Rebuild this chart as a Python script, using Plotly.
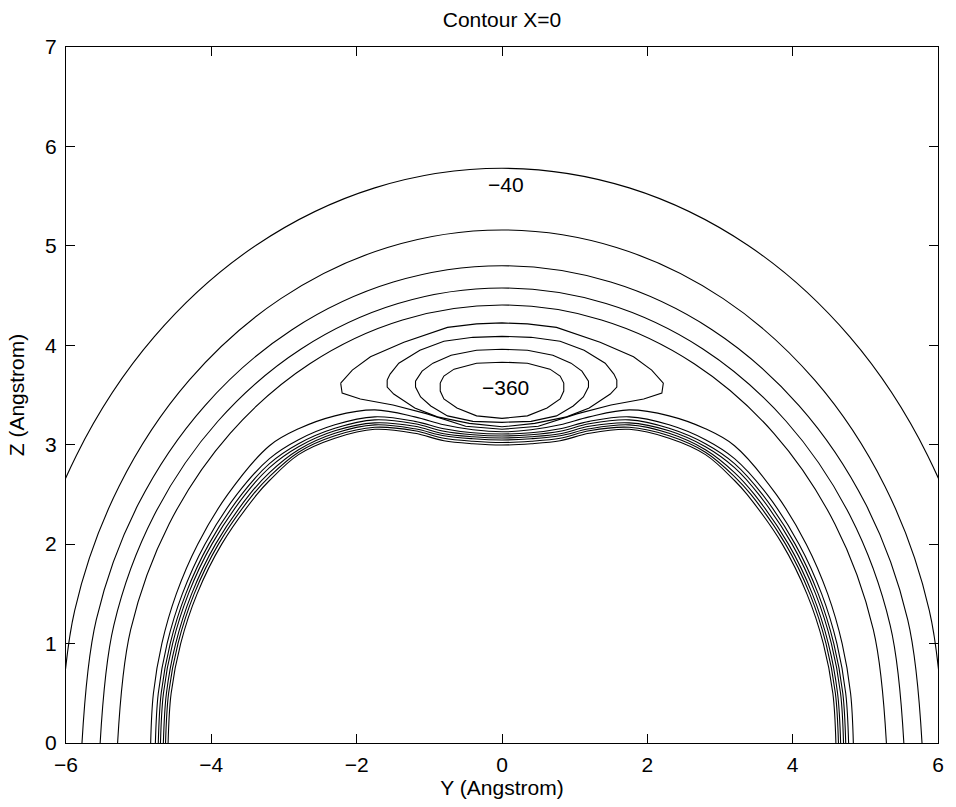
import plotly.graph_objects as go

# ---- contour data (Y, Z in Angstrom) ----
# open arcs (outer levels)
c040_y = [-6.765, -6.534, -5.859, -4.784, -3.383, -1.751, 0, 1.751, 3.383, 4.784, 5.859, 6.534, 6.765]
c040_z = [0, 1.496, 2.890, 4.087, 5.006, 5.583, 5.780, 5.583, 5.006, 4.087, 2.890, 1.496, 0]
c080_y = [-6.087, -5.880, -5.271, -4.304, -3.044, -1.575, 0, 1.575, 3.044, 4.304, 5.271, 5.880, 6.087]
c080_z = [0, 1.335, 2.580, 3.649, 4.469, 4.984, 5.160, 4.984, 4.469, 3.649, 2.580, 1.335, 0]
c120_y = [-5.78, -5.583, -5.006, -4.087, -2.890, -1.496, 0, 1.496, 2.890, 4.087, 5.006, 5.583, 5.78]
c120_z = [0, 1.242, 2.400, 3.394, 4.157, 4.636, 4.800, 4.636, 4.157, 3.394, 2.400, 1.242, 0]
c160_y = [-5.53, -5.342, -4.789, -3.910, -2.765, -1.431, 0, 1.431, 2.765, 3.910, 4.789, 5.342, 5.53]
c160_z = [0, 1.184, 2.288, 3.236, 3.963, 4.420, 4.576, 4.420, 3.963, 3.236, 2.288, 1.184, 0]
c200_y = [-5.29, -5.110, -4.581, -3.741, -2.645, -1.369, 0, 1.369, 2.645, 3.741, 4.581, 5.110, 5.29]
c200_z = [0, 1.140, 2.203, 3.115, 3.815, 4.255, 4.405, 4.255, 3.815, 3.115, 2.203, 1.140, 0]

# closed loops around the minimum
c240_y = [-2.22, -2.06, -1.81, -1.35, -0.75, -0.35, 0, 0.35, 0.75, 1.35, 1.81, 2.06, 2.22,
          2.20, 1.95, 1.50, 1.03, 0.50, 0, -0.50, -1.03, -1.50, -1.95, -2.20, -2.22]
c240_z = [3.62, 3.75, 3.885, 4.03, 4.18, 4.215, 4.225, 4.215, 4.18, 4.03, 3.885, 3.75, 3.62,
          3.52, 3.46, 3.40, 3.31, 3.185, 3.155, 3.185, 3.31, 3.40, 3.46, 3.52, 3.62]
c280_y = [-1.58, -1.54, -1.42, -1.13, -0.80, -0.40, 0, 0.40, 0.80, 1.13, 1.42, 1.54, 1.58,
          1.58, 1.49, 1.20, 0.89, 0.45, 0, -0.45, -0.89, -1.20, -1.49, -1.58, -1.58]
c280_z = [3.65, 3.71, 3.82, 3.95, 4.04, 4.08, 4.09, 4.08, 4.04, 3.95, 3.82, 3.71, 3.65,
          3.58, 3.51, 3.37, 3.28, 3.215, 3.18, 3.215, 3.28, 3.37, 3.51, 3.58, 3.65]
c320_y = [-1.19, -1.10, -0.95, -0.70, -0.35, 0, 0.35, 0.70, 0.95, 1.10, 1.19,
          1.19, 1.12, 0.98, 0.75, 0.40, 0, -0.40, -0.75, -0.98, -1.12, -1.19, -1.19]
c320_z = [3.64, 3.74, 3.82, 3.90, 3.95, 3.96, 3.95, 3.90, 3.82, 3.74, 3.64,
          3.58, 3.48, 3.39, 3.29, 3.235, 3.225, 3.235, 3.29, 3.39, 3.48, 3.58, 3.64]
c360_y = [-0.85, -0.80, -0.66, -0.35, 0, 0.35, 0.66, 0.80, 0.85,
          0.85, 0.80, 0.62, 0.35, 0, -0.35, -0.62, -0.80, -0.85, -0.85]
c360_z = [3.62, 3.69, 3.76, 3.82, 3.83, 3.82, 3.76, 3.69, 3.62,
          3.54, 3.46, 3.37, 3.29, 3.265, 3.29, 3.37, 3.46, 3.54, 3.62]

# inner "bump" contours (steep repulsive wall)
b1_y = [-4.835, -4.797, -4.681, -4.482, -4.187, -3.774, -3.2, -2.8, -2.3, -1.75, -1.2, -0.8, -0.4, 0,
        0.4, 0.8, 1.2, 1.75, 2.3, 2.8, 3.2, 3.774, 4.187, 4.482, 4.681, 4.797, 4.835]
b1_z = [0, 0.5, 1.0, 1.5, 2.0, 2.5, 2.99, 3.16, 3.29, 3.35, 3.28, 3.20, 3.15, 3.13,
        3.15, 3.20, 3.28, 3.35, 3.29, 3.16, 2.99, 2.5, 2.0, 1.5, 1.0, 0.5, 0]
b2_y = [-4.77, -4.730, -4.609, -4.399, -4.088, -3.648, -3.2, -2.8, -2.3, -1.75, -1.2, -0.8, -0.4, 0,
        0.4, 0.8, 1.2, 1.75, 2.3, 2.8, 3.2, 3.648, 4.088, 4.399, 4.609, 4.730, 4.77]
b2_z = [0, 0.5, 1.0, 1.5, 2.0, 2.5, 2.86, 3.05, 3.20, 3.28, 3.235, 3.16, 3.12, 3.108,
        3.12, 3.16, 3.235, 3.28, 3.20, 3.05, 2.86, 2.5, 2.0, 1.5, 1.0, 0.5, 0]
b3_y = [-4.73, -4.690, -4.566, -4.352, -4.034, -3.583, -3.2, -2.8, -2.3, -1.75, -1.2, -0.8, -0.4, 0,
        0.4, 0.8, 1.2, 1.75, 2.3, 2.8, 3.2, 3.583, 4.034, 4.352, 4.566, 4.690, 4.73]
b3_z = [0, 0.5, 1.0, 1.5, 2.0, 2.5, 2.81, 3.01, 3.165, 3.25, 3.21, 3.135, 3.10, 3.088,
        3.10, 3.135, 3.21, 3.25, 3.165, 3.01, 2.81, 2.5, 2.0, 1.5, 1.0, 0.5, 0]
b4_y = [-4.70, -4.659, -4.533, -4.316, -3.992, -3.533, -3.2, -2.8, -2.3, -1.75, -1.2, -0.8, -0.4, 0,
        0.4, 0.8, 1.2, 1.75, 2.3, 2.8, 3.2, 3.533, 3.992, 4.316, 4.533, 4.659, 4.70]
b4_z = [0, 0.5, 1.0, 1.5, 2.0, 2.5, 2.77, 2.98, 3.14, 3.22, 3.185, 3.11, 3.08, 3.068,
        3.08, 3.11, 3.185, 3.22, 3.14, 2.98, 2.77, 2.5, 2.0, 1.5, 1.0, 0.5, 0]
b5_y = [-4.66, -4.618, -4.491, -4.271, -3.942, -3.473, -3.2, -2.8, -2.3, -1.75, -1.2, -0.8, -0.4, 0,
        0.4, 0.8, 1.2, 1.75, 2.3, 2.8, 3.2, 3.473, 3.942, 4.271, 4.491, 4.618, 4.66]
b5_z = [0, 0.5, 1.0, 1.5, 2.0, 2.5, 2.72, 2.95, 3.115, 3.20, 3.16, 3.09, 3.06, 3.048,
        3.06, 3.09, 3.16, 3.20, 3.115, 2.95, 2.72, 2.5, 2.0, 1.5, 1.0, 0.5, 0]
b6_y = [-4.63, -4.588, -4.459, -4.236, -3.902, -3.425, -3.2, -2.8, -2.3, -1.75, -1.2, -0.8, -0.4, 0,
        0.4, 0.8, 1.2, 1.75, 2.3, 2.8, 3.2, 3.425, 3.902, 4.236, 4.459, 4.588, 4.63]
b6_z = [0, 0.5, 1.0, 1.5, 2.0, 2.5, 2.68, 2.925, 3.09, 3.175, 3.14, 3.065, 3.035, 3.022,
        3.035, 3.065, 3.14, 3.175, 3.09, 2.925, 2.68, 2.5, 2.0, 1.5, 1.0, 0.5, 0]
b7_y = [-4.595, -4.553, -4.422, -4.196, -3.857, -3.372, -3.2, -2.8, -2.3, -1.75, -1.2, -0.8, -0.4, 0,
        0.4, 0.8, 1.2, 1.75, 2.3, 2.8, 3.2, 3.372, 3.857, 4.196, 4.422, 4.553, 4.595]
b7_z = [0, 0.5, 1.0, 1.5, 2.0, 2.5, 2.64, 2.90, 3.065, 3.155, 3.115, 3.04, 3.01, 2.997,
        3.01, 3.04, 3.115, 3.155, 3.065, 2.90, 2.64, 2.5, 2.0, 1.5, 1.0, 0.5, 0]

label_text = ["\u221240", "\u2212360"]
label_y = [0.06, 0.05]
label_z = [5.62, 3.58]

x_ticks = [-6, -4, -2, 0, 2, 4, 6]
y_ticks = [0, 1, 2, 3, 4, 5, 6, 7]

FONT = "Liberation Sans, Arial, Helvetica, sans-serif"
FS = 21

fig = go.Figure()

smooth_curves = [(c040_y, c040_z), (c080_y, c080_z), (c120_y, c120_z), (c160_y, c160_z),
                 (c200_y, c200_z), (b1_y, b1_z), (b2_y, b2_z), (b3_y, b3_z), (b4_y, b4_z),
                 (b5_y, b5_z), (b6_y, b6_z), (b7_y, b7_z)]
loop_curves = [(c240_y, c240_z), (c280_y, c280_z), (c320_y, c320_z), (c360_y, c360_z)]

for yy, zz in smooth_curves:
    fig.add_trace(go.Scatter(x=yy, y=zz, mode="lines",
                             line=dict(color="black", width=1.1, shape="spline", smoothing=1.0),
                             hoverinfo="skip", showlegend=False))
for yy, zz in loop_curves:
    fig.add_trace(go.Scatter(x=yy, y=zz, mode="lines",
                             line=dict(color="black", width=1.1),
                             hoverinfo="skip", showlegend=False))

for t, xx, yy in zip(label_text, label_y, label_z):
    fig.add_annotation(x=xx, y=yy, text=t, showarrow=False,
                       font=dict(family=FONT, size=FS, color="black"))

axis_common = dict(showgrid=False, zeroline=False, showline=True, linecolor="black",
                   linewidth=1, mirror="ticks", ticks="inside", ticklen=9, tickwidth=1,
                   tickcolor="black", tickfont=dict(family=FONT, size=FS, color="black"))

fig.update_layout(
    width=956, height=807,
    paper_bgcolor="white", plot_bgcolor="white",
    margin=dict(l=66, r=16, t=47, b=64),
    title=dict(text="Contour X=0", x=0.5, xref="paper", xanchor="center",
               y=1 - 20 / 807, yanchor="middle", yref="container",
               font=dict(family=FONT, size=FS, color="black")),
    xaxis=dict(range=[-6, 6], tickvals=x_ticks, ticklabelstandoff=3,
               title=dict(text="Y (Angstrom)", standoff=2,
                          font=dict(family=FONT, size=FS, color="black")), **axis_common),
    yaxis=dict(range=[0, 7], tickvals=y_ticks, ticklabelstandoff=4,
               title=dict(text="Z (Angstrom)", standoff=14,
                          font=dict(family=FONT, size=FS, color="black")), **axis_common),
)

fig.write_html("out.html")
